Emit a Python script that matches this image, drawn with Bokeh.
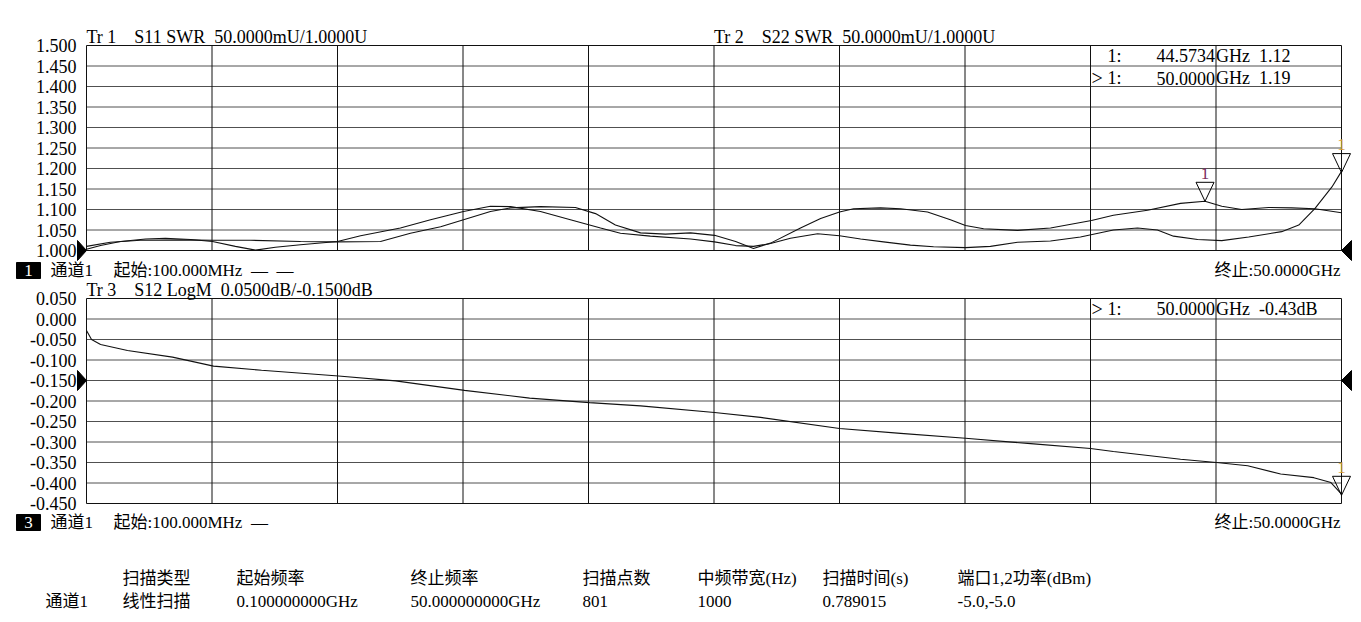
from bokeh.plotting import figure
from bokeh.models import Range1d, Label
from bokeh.core.properties import value
from bokeh.embed import file_html
from bokeh.resources import INLINE

# ---------------- data ----------------
F_START, F_STOP = 0.1, 50.0
N_DIV = 10

swr_ticks = [1.000, 1.050, 1.100, 1.150, 1.200, 1.250, 1.300, 1.350, 1.400, 1.450, 1.500]
logm_ticks = [0.050, 0.000, -0.050, -0.100, -0.150, -0.200, -0.250, -0.300, -0.350, -0.400, -0.450]
swr_ref = 1.000
logm_ref = -0.150

s11_f = [0.10, 0.66, 1.45, 2.45, 3.24, 4.24, 5.11, 6.02, 6.82, 7.61,
         8.61, 10.08, 11.0, 12.58, 13.78, 15.09, 16.16, 16.96, 18.15, 19.34,
         20.54, 21.33, 22.52, 24.12, 25.07, 25.91, 26.62, 27.30, 28.09, 29.17,
         30.04, 30.88, 31.79, 32.86, 33.78, 35.05, 36.04, 37.12, 38.43, 39.62,
         40.93, 41.89, 42.68, 43.32, 44.28, 45.24, 46.31, 47.62, 48.30, 48.94,
         49.62, 50.0]
s11_v = [1.003, 1.012, 1.022, 1.028, 1.030, 1.027, 1.022, 1.010, 1.001, 1.008,
         1.014, 1.022, 1.036, 1.055, 1.075, 1.095, 1.108, 1.107, 1.095, 1.075,
         1.055, 1.042, 1.035, 1.028, 1.021, 1.012, 1.010, 1.017, 1.030, 1.041,
         1.036, 1.028, 1.021, 1.013, 1.009, 1.007, 1.010, 1.020, 1.023, 1.033,
         1.050, 1.055, 1.050, 1.035, 1.027, 1.024, 1.033, 1.046, 1.062, 1.102,
         1.155, 1.193]

s22_f = [0.10, 1.05, 2.25, 3.84, 5.11, 6.62, 8.61, 10.08, 11.79, 12.98,
         14.18, 15.09, 16.16, 16.96, 18.15, 19.54, 20.34, 21.13, 22.13, 23.12,
         24.12, 25.07, 25.91, 26.62, 27.30, 28.49, 29.29, 30.04, 30.60, 31.67,
         32.47, 33.54, 34.45, 35.05, 35.77, 37.12, 38.43, 40.06, 40.93, 42.29,
         43.60, 44.57, 45.24, 46.03, 47.11, 48.02, 48.94, 50.0]
s22_v = [1.010, 1.020, 1.025, 1.026, 1.025, 1.025, 1.022, 1.021, 1.022, 1.042,
         1.058, 1.075, 1.095, 1.104, 1.107, 1.105, 1.090, 1.062, 1.043, 1.040,
         1.043, 1.037, 1.022, 1.005, 1.018, 1.055, 1.078, 1.094, 1.102, 1.104,
         1.102, 1.094, 1.075, 1.061, 1.053, 1.049, 1.055, 1.073, 1.086, 1.098,
         1.115, 1.120, 1.108, 1.100, 1.105, 1.104, 1.102, 1.092]

s12_f = [0.10, 0.30, 0.66, 1.73, 3.52, 5.15, 7.06, 10.12, 12.39, 15.13,
         17.72, 20.10, 22.13, 25.07, 26.90, 30.04, 32.47, 35.05, 37.64, 40.02,
         40.93, 43.60, 45.03, 46.27, 47.58, 48.90, 49.58, 50.0]
s12_v = [-0.028, -0.050, -0.062, -0.077, -0.093, -0.115, -0.125, -0.139, -0.151, -0.174,
         -0.193, -0.204, -0.212, -0.228, -0.240, -0.267, -0.279, -0.291, -0.304, -0.316,
         -0.323, -0.342, -0.350, -0.358, -0.378, -0.387, -0.399, -0.427]

swr_mk_f = [44.5734, 50.0]
swr_mk_v = [1.12, 1.19]
swr_mk_color = ["#7a2d5e", "#d9962a"]
logm_mk_f = [50.0]
logm_mk_v = [-0.43]
logm_mk_color = ["#d9962a"]

NB = "\u00a0"
title1 = "Tr" + NB + "1" + NB * 4 + "S11" + NB + "SWR" + NB * 2 + "50.0000mU/1.0000U"
title2 = "Tr" + NB + "2" + NB * 4 + "S22" + NB + "SWR" + NB * 2 + "50.0000mU/1.0000U"
title3 = "Tr" + NB + "3" + NB * 4 + "S12" + NB + "LogM" + NB * 2 + "0.0500dB/-0.1500dB"
# marker readouts: (active flag, label, frequency text, unit+value text)
mk_read_top = [("", "1:", "44.5734", "GHz" + NB * 2 + "1.12"),
               (">", "1:", "50.0000", "GHz" + NB * 2 + "1.19")]
mk_read_bot = [(">", "1:", "50.0000", "GHz" + NB * 2 + "-0.43dB")]
chan_txt = "通道1"
start1 = "起始:100.000MHz" + NB * 2 + "—" + NB * 2 + "—"
start3 = "起始:100.000MHz" + NB * 2 + "—"
stop_txt = "终止:50.0000GHz"
tbl_head = ["扫描类型", "起始频率", "终止频率", "扫描点数", "中频带宽(Hz)", "扫描时间(s)", "端口1,2功率(dBm)"]
tbl_vals = ["线性扫描", "0.100000000GHz", "50.000000000GHz", "801", "1000", "0.789015", "-5.0,-5.0"]

# ---------------- layout (pixels) ----------------
W, H = 1353, 614
L, R = 86, 1341          # frame left / right
T1, B1 = 45, 250         # top panel frame
T2, B2 = 298, 503        # bottom panel frame
tbl_x = [122, 236, 410, 582, 697, 822, 957]
FONT = "'Liberation Serif', 'Noto Sans CJK SC'"
INK = "#111111"

gx = (F_STOP - F_START) / (R - L)
sw_lo, sw_hi = min(swr_ticks), max(swr_ticks)
lg_lo, lg_hi = min(logm_ticks), max(logm_ticks)
g1 = (sw_hi - sw_lo) / (B1 - T1)
g2 = (lg_hi - lg_lo) / (B2 - T2)

p = figure(width=W, height=H, title=None, output_backend="svg", toolbar_location=None,
           x_range=Range1d(F_START - L * gx, F_STOP + (W - R) * gx),
           y_range=Range1d(H, 0), x_axis_type=None, y_axis_type=None,
           min_border=0, min_border_left=0, min_border_right=0,
           min_border_top=0, min_border_bottom=0)
p.outline_line_color = None
p.background_fill_color = "white"
p.border_fill_color = "white"
p.extra_x_ranges = {"px": Range1d(0, W)}
p.extra_y_ranges = {"swr": Range1d(sw_lo - (H - B1) * g1, sw_hi + T1 * g1),
                    "logm": Range1d(lg_lo - (H - B2) * g2, lg_hi + T2 * g2)}

step = (F_STOP - F_START) / N_DIV
xgrid = [F_START + i * step for i in range(N_DIV + 1)]


def panel(rng, ticks, lo, hi, g, ref):
    inner = [t for t in ticks if t not in (lo, hi)]
    p.segment(x0=[F_START] * len(inner), x1=[F_STOP] * len(inner), y0=inner, y1=inner,
              y_range_name=rng, line_color="#505050", line_width=1)
    p.segment(x0=xgrid, x1=xgrid, y0=[lo] * len(xgrid), y1=[hi] * len(xgrid),
              y_range_name=rng, line_color=INK, line_width=1)
    p.segment(x0=[F_START, F_START], x1=[F_STOP, F_STOP], y0=[lo, hi], y1=[lo, hi],
              y_range_name=rng, line_color=INK, line_width=1)
    p.text(x=[F_START] * len(ticks), y=ticks, text=[f"{t:.3f}" for t in ticks],
           x_offset=-10, y_range_name=rng, text_align="right", text_baseline="middle",
           text_font=value(FONT), text_font_size="18px", text_color="black")
    # reference-level triangles
    p.patches(xs=[[F_START - 9 * gx, F_START, F_START - 9 * gx],
                  [F_STOP + 10 * gx, F_STOP, F_STOP + 10 * gx]],
              ys=[[ref + 10 * g, ref, ref - 10 * g]] * 2,
              y_range_name=rng, fill_color="black", line_color="black")


def markers(rng, fs, vs, cols, g):
    p.patches(xs=[[f - 9 * gx, f + 9 * gx, f] for f in fs],
              ys=[[v + 19 * g, v + 19 * g, v] for v in vs],
              y_range_name=rng, fill_alpha=0, line_color="black", line_width=1)
    for f, v, c in zip(fs, vs, cols):
        p.add_layout(Label(x=f, y=v, y_range_name=rng, y_offset=28, text="1",
                           text_align="center", text_baseline="middle", text_color=c,
                           text_font=FONT, text_font_size="17px"))


def txt(x, y, text, size="18px", align="left", color="black"):
    p.add_layout(Label(x=x, y=y, x_range_name="px", text=text, text_font=FONT,
                       text_font_size=size, text_align=align, text_baseline="middle",
                       text_color=color))


def readouts(rows, ytop):
    x8 = L + 8 * (R - L) / N_DIV
    x9 = L + 9 * (R - L) / N_DIV
    for i, (act, a, b, c) in enumerate(rows):
        yy = ytop + 10 + 22.5 * i
        if act:
            txt(x8 + 1, yy, act, size="20px")
        txt(x8 + 17, yy, a)
        txt(x9 - 1, yy, b, align="right")
        txt(x9, yy, c)


def chan_row(yy, num, start_text):
    p.rect(x=[28], y=[yy], width=24, height=16, x_range_name="px",
           fill_color="black", line_color="black")
    txt(28, yy, num, color="white", align="center", size="17px")
    txt(50, yy, chan_txt, size="17px")
    txt(113, yy, start_text, size="17px")
    txt(R - 1, yy, stop_txt, size="17px", align="right")


# ---------------- top panel ----------------
panel("swr", swr_ticks, sw_lo, sw_hi, g1, swr_ref)
p.line(s11_f, s11_v, y_range_name="swr", line_color=INK, line_width=1.1)
p.line(s22_f, s22_v, y_range_name="swr", line_color=INK, line_width=1.1)
markers("swr", swr_mk_f, swr_mk_v, swr_mk_color, g1)
txt(L, T1 - 9, title1)
txt(L + 5 * (R - L) / N_DIV, T1 - 9, title2)
readouts(mk_read_top, T1)
chan_row(B1 + 20, "1", start1)

# ---------------- bottom panel ----------------
panel("logm", logm_ticks, lg_lo, lg_hi, g2, logm_ref)
p.line(s12_f, s12_v, y_range_name="logm", line_color=INK, line_width=1.1)
markers("logm", logm_mk_f, logm_mk_v, logm_mk_color, g2)
txt(L, T2 - 9, title3)
readouts(mk_read_bot, T2)
chan_row(B2 + 19, "3", start3)

# ---------------- channel table ----------------
txt(45, B2 + 98, chan_txt, size="17px")
for hx, h, v in zip(tbl_x, tbl_head, tbl_vals):
    txt(hx, B2 + 75, h, size="17px")
    txt(hx, B2 + 98, v, size="17px")

open("out.html", "w").write(file_html(p, INLINE))
